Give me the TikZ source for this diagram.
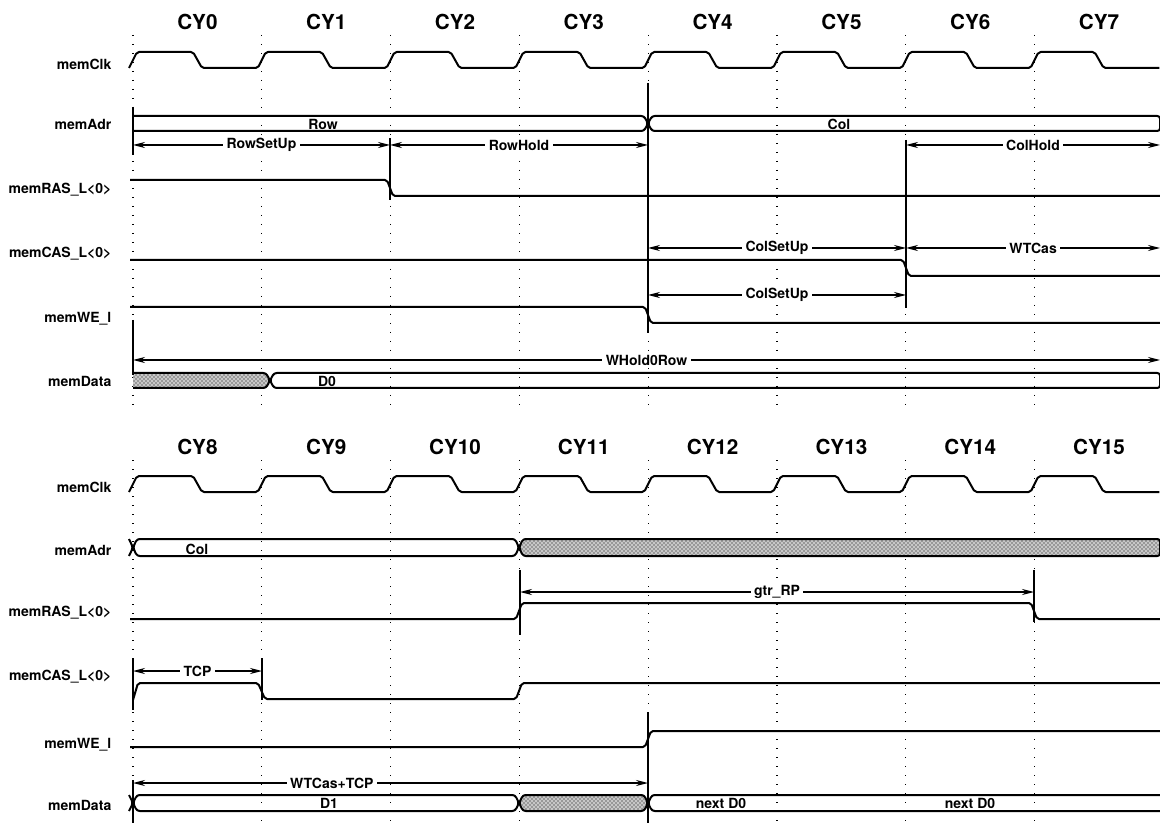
\documentclass[tikz,border=0pt]{standalone}
\usepackage{fontspec}
\setmainfont{TeX Gyre Heros}
\usetikzlibrary{arrows.meta,patterns,positioning}

\begin{document}
\begin{tikzpicture}[x=0.75pt,y=-0.75pt,>={Stealth[length=9pt,width=4.5pt]},
  wave/.style={line width=1.5pt,line join=round,rounded corners=1.5pt},
  bus/.style={line width=1.5pt,line join=round,rounded corners=2pt},
  dontcare/.style={bus,preaction={fill=black!22},pattern=crosshatch dots,pattern color=black},
  cycle line/.style={line width=1pt,dash pattern=on 1pt off 5.75pt},
  marker/.style={line width=1.5pt},
  dim/.style={<->,line width=1pt},
  cy node/.style={font=\fontsize{15.5}{18}\selectfont\bfseries},
  sig node/.style={anchor=east,font=\fontsize{10.5}{12}\selectfont\bfseries},
  val node/.style={font=\fontsize{10.5}{12}\selectfont\bfseries,inner sep=1pt},
  dim node/.style={fill=white,font=\fontsize{10.5}{12}\selectfont\bfseries,inner sep=2.5pt}]
\useasboundingbox (0,0) rectangle (1160,823);

% cycles, grid and clocks
\foreach \i [evaluate=\i as \j using int(\i+8)] in {0,...,7} {
  \node[cy node] (cy\i) at (197.4+128.8*\i,22) {CY\i};
  \node[cy node] (cy\j) at (197.4+128.8*\i,447) {CY\j};
  \draw[cycle line] (133+128.8*\i,35) -- (133+128.8*\i,410);
  \draw[cycle line] (133+128.8*\i,460) -- (133+128.8*\i,823);
}
\draw[wave] (129,68) \foreach \i in {0,...,7} {-- ++(8,-16) -- ++(56,0) -- ++(9,16) -- ++(55.8,0)};
\draw[wave] (129,492) \foreach \i in {0,...,7} {-- ++(8,-16) -- ++(56,0) -- ++(9,16) -- ++(55.8,0)};

% signal names
\node[sig node] (clk1) at (116,64) {memClk};
\node[sig node] (adr1) at (116,124) {memAdr};
\node[sig node] (ras1) at (116,190) {memRAS\_L\textless0\textgreater};
\node[sig node] (cas1) at (116,254) {memCAS\_L\textless0\textgreater};
\node[sig node] (we1) at (116,319) {memWE\_l};
\node[sig node] (data1) at (116,381) {memData};
\node[sig node] (clk2) at (116,487) {memClk};
\node[sig node] (adr2) at (116,550) {memAdr};
\node[sig node] (ras2) at (116,613) {memRAS\_L\textless0\textgreater};
\node[sig node] (cas2) at (116,677) {memCAS\_L\textless0\textgreater};
\node[sig node] (we2) at (116,745) {memWE\_l};
\node[sig node] (data2) at (116,805) {memData};

% upper waveforms
\draw[bus] (133,116) -- (644,116) -- (648,123.5) -- (644,131) -- (133,131);
\draw[bus] (648,123.5) -- (652,116) -- (1160,116) -- (1160,131) -- (652,131) -- cycle;
\node[val node] (row) at (323,124) {Row};
\node[val node] (col1) at (839,124) {Col};
\draw[wave] (130,180) -- (387,180) -- (393,196) -- (1160,196);
\draw[wave] (130,260) -- (903,260) -- (909,276) -- (1160,276);
\draw[wave] (130,307) -- (645,307) -- (651,323) -- (1160,323);
\draw[dontcare] (133,373) -- (266,373) -- (270,380.5) -- (266,388) -- (133,388);
\draw[bus] (270,380.5) -- (274,373) -- (1160,373) -- (1160,388) -- (274,388) -- cycle;
\node[val node] (d0) at (327,381) {D0};

% upper markers
\draw[marker] (133,107) -- (133,155);
\draw[marker] (390,138) -- (390,200);
\draw[marker] (648,83) -- (648,333);
\draw[marker] (906,140) -- (906,308);
\draw[marker] (133,320) -- (133,375);

\coordinate (rs0) at (133,145);
\coordinate (rs1) at (390,145);
\coordinate (rs2) at (648,145);
\coordinate (ch0) at (906,145);
\coordinate (ch1) at (1160,145);
\coordinate (cs0) at (648,248);
\coordinate (cs1) at (906,248);
\coordinate (wt1) at (1160,248);
\coordinate (cs2) at (648,295);
\coordinate (cs3) at (906,295);
\coordinate (wh0) at (133,360);
\coordinate (wh1) at (1160,360);
\draw[dim] (rs0) -- node[dim node] (rowsetup) {RowSetUp} (rs1);
\draw[dim] (rs1) -- node[dim node] (rowhold) {RowHold} (rs2);
\draw[dim] (ch0) -- node[dim node] (colhold) {ColHold} (ch1);
\draw[dim] (cs0) -- node[dim node] (colsetup1) {ColSetUp} (cs1);
\draw[dim] (cs1) -- node[dim node] (wtcas) {WTCas} (wt1);
\draw[dim] (cs2) -- node[dim node] (colsetup2) {ColSetUp} (cs3);
\draw[dim] (wh0) -- node[dim node] (whold) {WHold0Row} (wh1);

% lower waveforms
\draw[bus] (129,539) -- (133,547.5) -- (129,556);
\draw[bus] (133,547.5) -- (137,539) -- (515,539) -- (519,547.5) -- (515,556) -- (137,556) -- cycle;
\draw[dontcare] (519,547.5) -- (523,539) -- (1160,539) -- (1160,556) -- (523,556) -- cycle;
\node[val node] (col2) at (197,549) {Col};
\draw[wave] (130,619) -- (516,619) -- (522,603) -- (1031,603) -- (1037,619) -- (1160,619);
\draw[wave] (133,700) -- (138,683) -- (258,683) -- (265,699) -- (516,699) -- (522,683) -- (1160,683);
\draw[wave] (130,747) -- (645,747) -- (651,731) -- (1160,731);
\draw[bus] (129,795) -- (133,803) -- (129,811);
\draw[bus] (133,803) -- (137,795) -- (515,795) -- (519,803) -- (515,811) -- (137,811) -- cycle;
\draw[dontcare] (519,803) -- (523,795) -- (644,795) -- (648,803) -- (644,811) -- (523,811) -- cycle;
\draw[bus] (1160,795) -- (652,795) -- (648,803) -- (652,811) -- (1160,811);
\node[val node] (d1) at (329,803) {D1};
\node[val node] (nextd0a) at (721,803) {next D0};
\node[val node] (nextd0b) at (970,803) {next D0};

% lower markers
\draw[marker] (520,570) -- (520,635);
\draw[marker] (1034,570) -- (1034,622);
\draw[marker] (133,658) -- (133,710);
\draw[marker] (262,658) -- (262,700);
\draw[marker] (648,712) -- (648,823);
\draw[marker] (133,780) -- (133,823);

\coordinate (rp0) at (520,592);
\coordinate (rp1) at (1034,592);
\coordinate (tc0) at (133,671);
\coordinate (tc1) at (262,671);
\coordinate (wc0) at (133,783);
\coordinate (wc1) at (648,783);
\draw[dim] (rp0) -- node[dim node] (gtrrp) {gtr\_RP} (rp1);
\draw[dim] (tc0) -- node[dim node] (tcp) {TCP} (tc1);
\draw[dim] (wc0) -- node[dim node,pos=0.386] (wtcastcp) {WTCas+TCP} (wc1);
\end{tikzpicture}
\end{document}
